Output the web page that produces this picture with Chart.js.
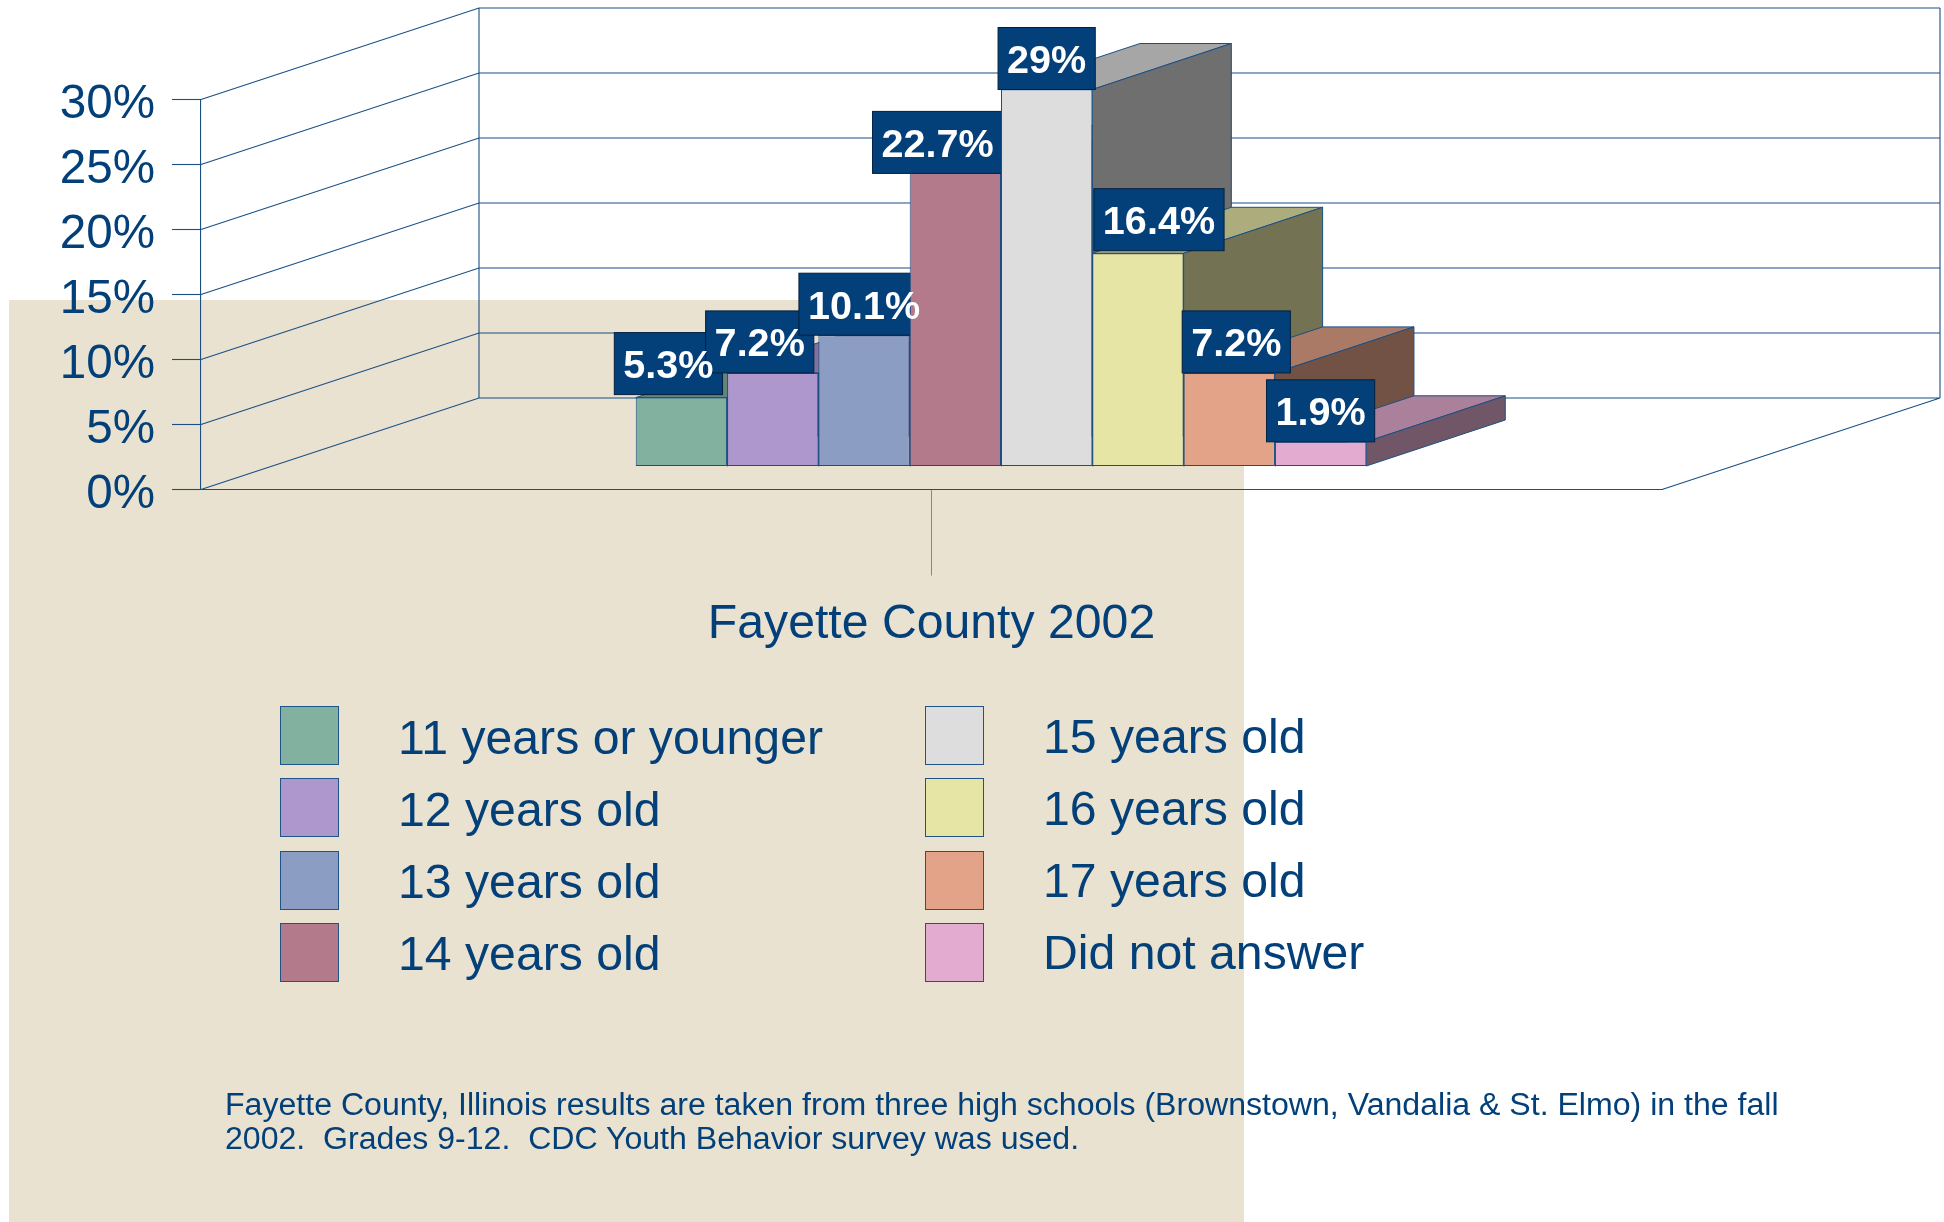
<!DOCTYPE html>
<html>
<head>
<meta charset="utf-8">
<title>Fayette County 2002</title>
<script src="https://cdn.jsdelivr.net/npm/chart.js@4"></script>
<style>
    html, body { margin: 0; padding: 0; background: #fff; overflow: hidden; }
    #page { position: relative; width: 1944px; height: 1222px; font-family: 'Liberation Sans', Arial, sans-serif; color: #03407a; }
    #paper { position: absolute; left: 9px; top: 300px; width: 1235px; height: 922px; background: #e9e2d0; }
    #wrap { position: absolute; left: 0; top: 0; width: 1944px; height: 1222px; }
    .key { position: absolute; width: 57px; height: 57px; border: 1px solid #1f5488; }
    .keyText { position: absolute; font-size: 48.2px; line-height: 59px; white-space: pre; }
    #note { position: absolute; left: 225px; top: 1088px; font-size: 32.1px; line-height: 33.6px; white-space: pre; }
</style>
</head>
<body>
<div id="page">
    <div id="paper"></div>
    <div id="wrap"><canvas id="chartAges"></canvas></div>
    <div id="legend"></div>
    <div id="note">Fayette County, Illinois results are taken from three high schools (Brownstown, Vandalia &amp; St. Elmo) in the fall
2002.  Grades 9-12.  CDC Youth Behavior survey was used.</div>
</div>
<script>
/* Datos */
const categories = ['Fayette County 2002'];
const ageGroups = ['11 years or younger', '12 years old', '13 years old', '14 years old',
    '15 years old', '16 years old', '17 years old', 'Did not answer'];
const percentValues = [5.3, 7.2, 10.1, 22.7, 29, 16.4, 7.2, 1.9];
const yTickLabels = ['0%', '5%', '10%', '15%', '20%', '25%', '30%'];
const barColors = ['#82b19f', '#ad97cd', '#8b9dc3', '#b27a8b', '#dddddd', '#e6e5a5', '#e2a389', '#e2abcf'];

/* the labels were nudged by hand in the original */
const labelNudgeX = [-13, -13, 0, -17.7, 0, 21, 7, 0];
const labelNudgeY = [-3, 0, 0, 2, 0, -2.6, 0, 0];

const lineColor = '#1a4f85';
const textColor = '#03407a';
const labelFill = '#03407a';
const fontFamily = "'Liberation Sans', Arial, sans-serif";

/* Fake 3D depth */
const wallDx = 278, wallDy = 91.5;
const frontDx = 69.5, frontDy = 23;
const barDx = 139, barDy = 46;

const shade = (hex, f) => {
    const n = parseInt(hex.slice(1), 16);
    const r = Math.round((n >> 16) * f);
    const g = Math.round(((n >> 8) & 255) * f);
    const b = Math.round((n & 255) * f);
    return `rgb(${r},${g},${b})`;
};

const poly = (ctx, pts, fill) => {
    ctx.beginPath();
    ctx.moveTo(pts[0][0], pts[0][1]);
    for (let i = 1; i < pts.length; i++) ctx.lineTo(pts[i][0], pts[i][1]);
    ctx.closePath();
    ctx.fillStyle = fill;
    ctx.fill();
    ctx.lineWidth = 1;
    ctx.strokeStyle = lineColor;
    ctx.stroke();
};

const depth3d = {
    id: 'depth3d',
    beforeDatasetsDraw(chart) {
        const ctx = chart.ctx;
        const area = chart.chartArea;
        const y = chart.scales.y;
        const backLeft = area.left + wallDx;
        const backRight = area.right + wallDx;

        ctx.save();
        ctx.strokeStyle = lineColor;
        ctx.lineWidth = 1.1;
        ctx.beginPath();
        y.ticks.forEach((t) => {
            const py = y.getPixelForValue(t.value);
            ctx.moveTo(area.left, py);
            ctx.lineTo(backLeft, py - wallDy);
            ctx.lineTo(backRight, py - wallDy);
        });
        ctx.moveTo(backLeft, y.getPixelForValue(0) - wallDy);
        ctx.lineTo(backLeft, y.getPixelForValue(30) - wallDy);
        ctx.moveTo(backRight, y.getPixelForValue(0) - wallDy);
        ctx.lineTo(backRight, y.getPixelForValue(30) - wallDy);
        ctx.moveTo(area.right, area.bottom);
        ctx.lineTo(backRight, area.bottom - wallDy);
        ctx.stroke();
        ctx.restore();
    },
    // chart.js paints last dataset first, here it has to go left to right
    beforeDatasetDraw() {
        return false;
    },
    afterDatasetsDraw(chart) {
        const ctx = chart.ctx;
        const metas = chart.getSortedVisibleDatasetMetas().slice().sort((a, b) => a.index - b.index);

        metas.forEach((meta) => {
            const i = meta.index;
            const bar = meta.data[0];
            const color = barColors[i];
            const left = bar.x - bar.width / 2 + frontDx;
            const right = bar.x + bar.width / 2 + frontDx;
            const top = bar.y - frontDy;
            const bottom = bar.base - frontDy;

            // top and right faces first, the front comes from the bar itself
            poly(ctx, [[left, top], [left + barDx, top - barDy], [right + barDx, top - barDy], [right, top]], shade(color, 0.75));
            poly(ctx, [[right, top], [right + barDx, top - barDy], [right + barDx, bottom - barDy], [right, bottom]], shade(color, 0.5));

            ctx.save();
            ctx.translate(frontDx, -frontDy);
            meta.controller.draw();
            ctx.restore();

            ctx.save();
            ctx.font = `bold 39.6px ${fontFamily}`;
            const w = ctx.measureText(percentValues[i] + '%').width + 18;
            const h = 62;
            const cx = bar.x + frontDx + labelNudgeX[i];
            const boxBottom = top + labelNudgeY[i];
            ctx.fillStyle = labelFill;
            ctx.fillRect(cx - w / 2, boxBottom - h, w, h);
            ctx.strokeStyle = '#02203f';
            ctx.lineWidth = 1;
            ctx.strokeRect(cx - w / 2, boxBottom - h, w, h);
            ctx.restore();
        });

        // value text stays on top of every bar, the boxes do not
        ctx.save();
        ctx.font = `bold 39.6px ${fontFamily}`;
        ctx.textAlign = 'center';
        ctx.textBaseline = 'alphabetic';
        ctx.fillStyle = '#fff';
        metas.forEach((meta) => {
            const bar = meta.data[0];
            const cx = bar.x + frontDx + labelNudgeX[meta.index];
            const boxBottom = bar.y - frontDy + labelNudgeY[meta.index];
            ctx.fillText(percentValues[meta.index] + '%', cx, boxBottom - 16.5);
        });
        ctx.restore();
    },
};

const datasets = ageGroups.map((name, i) => ({
    label: name,
    data: [percentValues[i]],
    backgroundColor: barColors[i],
    borderColor: lineColor,
    borderWidth: 1,
    borderSkipped: false,
}));

new Chart(document.getElementById('chartAges'), {
    type: 'bar',
    data: { labels: categories, datasets: datasets },
    options: {
        responsive: true,
        maintainAspectRatio: false,
        animation: false,
        layout: { padding: { left: 0, top: 99.5, right: 282, bottom: 0 } },
        datasets: { bar: { categoryPercentage: 0.5, barPercentage: 1 } },
        scales: {
            x: {
                afterFit: (scale) => { scale.height = 1222 - 489.5; },
                grid: {
                    offset: false,
                    drawOnChartArea: false,
                    tickLength: 86,
                    tickColor: '#6f8ba5',
                    tickWidth: 1,
                },
                border: { color: lineColor, width: 1.1 },
                ticks: {
                    color: textColor,
                    font: { family: fontFamily, size: 48.2 },
                    padding: 20,
                    maxRotation: 0,
                },
            },
            y: {
                min: 0,
                max: 30,
                afterFit: (scale) => { scale.width = 201; },
                grid: {
                    drawOnChartArea: false,
                    tickLength: 29,
                    tickColor: lineColor,
                    tickWidth: 1.1,
                },
                border: { color: lineColor, width: 1.1 },
                ticks: {
                    stepSize: 5,
                    color: textColor,
                    font: { family: fontFamily, size: 47.6 },
                    padding: 17,
                    labelOffset: 5.5,
                    callback: (value, i) => yTickLabels[i],
                },
            },
        },
        plugins: {
            legend: { display: false },
            tooltip: { enabled: false },
        },
    },
    plugins: [depth3d],
});

/* Leyenda: two columns of four, filled top to bottom */
const legendBox = document.getElementById('legend');
ageGroups.forEach((name, i) => {
    const col = Math.floor(i / 4);
    const row = i % 4;
    const top = 706 + row * 72.3;

    const key = document.createElement('div');
    key.className = 'key';
    key.style.left = (280 + col * 645) + 'px';
    key.style.top = top + 'px';
    key.style.background = barColors[i];
    legendBox.appendChild(key);

    const txt = document.createElement('div');
    txt.className = 'keyText';
    txt.textContent = name;
    txt.style.left = (398 + col * 645) + 'px';
    txt.style.top = (top + 1.5 - col) + 'px';
    legendBox.appendChild(txt);
});
</script>
</body>
</html>
